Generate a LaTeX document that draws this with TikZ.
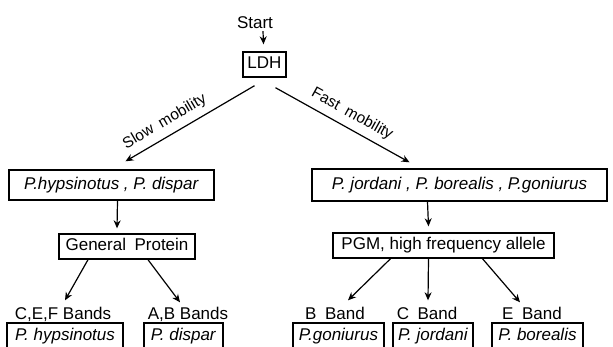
\documentclass[tikz,border=0pt]{standalone}
\usepackage{fontspec}
\setmainfont{Liberation Sans}
\usetikzlibrary{arrows.meta}
\begin{document}
\begin{tikzpicture}[x=1pt,y=-1pt,
  box/.style={draw,line width=1.4pt,inner sep=0pt,text height=12pt,text depth=3.5pt,font=\fontsize{17}{20}\selectfont},
  band/.style={inner sep=0pt,text height=12pt,text depth=0pt,font=\fontsize{17}{20}\selectfont},
  arr/.style={-{Stealth[length=8pt,width=7pt]},line width=1.2pt},
  mob/.style={font=\fontsize{15.5}{18}\selectfont,sloped,above=3pt}]
\useasboundingbox (0,0) rectangle (613,346);

% Top
\node[band] (start) at (255,22) {Start};
\node[box,minimum width=43pt,minimum height=25pt] (ldh) at (264.5,64.5) {LDH};

% Species groups
\node[box,minimum width=205pt,minimum height=30pt] (slow) at (111.5,185) {\textit{P.hypsinotus , P. dispar}};
\node[box,minimum width=295pt,minimum height=32pt] (fast) at (459.5,185) {\textit{P. jordani , P. borealis , P.goniurus}};

% Second tests
\node[box,minimum width=136pt,minimum height=25pt] (gp) at (127,246.5) {General\enspace Protein};
\node[box,minimum width=221pt,minimum height=25pt] (pgm) at (443.5,245.5) {PGM, high frequency allele};

% Bands
\node[band] (cef) at (63,313.5) {C,E,F Bands};
\node[band] (ab) at (188,313.5) {A,B Bands};
\node[band] (bband) at (335,313.5) {B\enspace Band};
\node[band] (cband) at (427,313.5) {C\enspace Band};
\node[band] (eband) at (532,313.5) {E\enspace Band};

% Species
\node[box,minimum width=116pt,minimum height=27pt] (hyps) at (65,336.5) {\textit{P. hypsinotus}};
\node[box,minimum width=79pt,minimum height=27pt] (disp) at (183.5,336.5) {\textit{P. dispar}};
\node[box,minimum width=91pt,minimum height=27pt] (goni) at (338.5,336.5) {\textit{P.goniurus}};
\node[box,minimum width=80pt,minimum height=27pt] (jord) at (433,336.5) {\textit{P. jordani}};
\node[box,minimum width=91pt,minimum height=27pt] (bore) at (537.5,336.5) {\textit{P. borealis}};

% Arrows
\draw[arr] ([shift={(8,3)}]start.south) -- ([shift={(-1,-7)}]ldh.north);
\draw[arr] ([shift={(-10,8)}]ldh.south) -- node[mob,pos=0.64] {Slow\enspace mobility} ([shift={(14,-8)}]slow.north);
\draw[arr] ([shift={(11,10)}]ldh.south) -- node[mob,pos=0.52] {Fast\enspace mobility} ([shift={(-50,-6)}]fast.north);
\draw[arr] ([shift={(6,0)}]slow.south) -- ([shift={(-10,-5)}]gp.north);
\draw[arr] ([shift={(-32,0)}]fast.south) -- ([shift={(-15,-6)}]pgm.north);
\draw[arr] ([shift={(-39,0)}]gp.south) -- ([shift={(2,-7)}]cef.north);
\draw[arr] ([shift={(21,0)}]gp.south) -- ([shift={(-8,-5)}]ab.north);
\draw[arr] ([shift={(-53,0)}]pgm.south) -- ([shift={(13,-7)}]bband.north);
\draw[arr] ([shift={(-15,0)}]pgm.south) -- ([shift={(1,-7)}]cband.north);
\draw[arr] ([shift={(39,0)}]pgm.south) -- ([shift={(-12,-5)}]eband.north);

\end{tikzpicture}
\end{document}
